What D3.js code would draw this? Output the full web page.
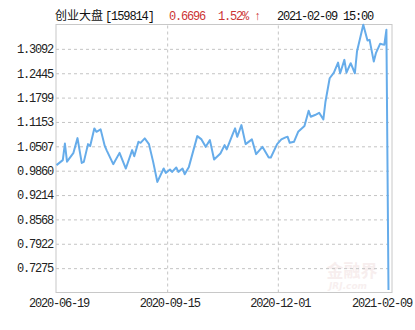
<!DOCTYPE html>
<html>
<head>
<meta charset="utf-8">
<script src="https://cdn.jsdelivr.net/npm/d3@7"></script>
<style>
  body { margin: 0; background: #fff; }
  svg { display: block; }
  .lbl { font-family: "Liberation Mono", monospace; font-size: 12px; letter-spacing: -1.2px; fill: #222; }
</style>
</head>
<body>
<script>
// trading-day index of each vertex and the net value there
const dayIdx = [0,3,4,5,8,10,12,13,15,16,18,19,21,23,24,27,30,33,36,37,39,40,42,44,46,48,51,52,54,55,57,58,60,61,63,67,69,71,73,75,78,80,81,84,85,86,88,90,93,95,98,101,102,105,107,109,110,111,113,115,118,120,121,123,125,127,128,130,132,134,135,137,138,140,142,143,146,148,149,151,152,154,156,157,158];
const nav = [1.0007,1.0140,1.0580,1.0100,1.0325,1.0724,1.0067,1.0094,1.0565,1.0511,1.0982,1.0892,1.0956,1.0511,1.0386,1.0033,1.0333,0.9918,1.0405,1.0245,1.0626,1.0599,1.0716,1.0565,1.0094,0.9562,0.9918,0.9801,0.9892,0.9828,0.9945,0.9828,0.9918,0.9767,0.9961,1.0777,1.0690,1.0493,1.0671,1.0158,1.0317,1.0538,1.0424,1.0849,1.0982,1.0759,1.1070,1.0565,1.0690,1.0299,1.0493,1.0211,1.0211,1.0565,1.0690,1.0743,1.0759,1.0599,1.0626,1.0892,1.1043,1.1450,1.1291,1.1336,1.1397,1.1222,1.1690,1.2312,1.2461,1.2727,1.2445,1.2799,1.2461,1.2711,1.2445,1.3020,1.3730,1.3312,1.3331,1.2754,1.2977,1.3225,1.3198,1.3597,0.6696];
const lastDay = 158;
const yMin = 0.6629, yMax = 1.3738;
const yTicks = [0.7275,0.7922,0.8568,0.9214,0.9860,1.0507,1.1153,1.1799,1.2445,1.3092];
const xTickIdx = [0, lastDay/3, lastDay*2/3, lastDay];
const xTickLabels = ["2020-06-19","2020-09-15","2020-12-01","2021-02-09"];
const fundName = "创业大盘[159814]";
const lastNav = "0.6696", pct = "1.52%", stamp = "2021-02-09 15:00";

const W = 415, H = 330;
const pL = 56, pR = 392, pT = 24.5, pB = 292.5;

const svg = d3.select("body").append("svg").attr("width", W).attr("height", H);

const x = d3.scaleLinear().domain([0, lastDay]).range([pL + 0.5, 388.5]);
const y = d3.scaleLinear().domain([yMin, yMax]).range([pB, pT]);

// watermark
const wm = svg.append("g").attr("opacity", 0.3);
wm.append("text").attr("x", 352).attr("y", 277).attr("text-anchor", "middle")
  .attr("font-family", "Noto Sans CJK SC").attr("font-weight", "bold").attr("font-size", 17)
  .attr("fill", "#e8c8c8").text("金融界");
wm.append("text").attr("x", 348).attr("y", 289).attr("text-anchor", "middle")
  .attr("font-family", "DejaVu Sans").attr("font-style", "italic").attr("font-weight", "bold").attr("font-size", 9)
  .attr("fill", "#e8cccc").text("JRJ.com");

// y grid + labels
const yAxis = d3.axisLeft(y).tickValues(yTicks).tickFormat(d3.format(".4f"))
  .tickSize(-(pR - pL)).tickPadding(3);
const gy = svg.append("g").attr("transform", `translate(${pL},0)`).call(yAxis);
gy.select(".domain").remove();
gy.selectAll(".tick line").attr("stroke", "#c4c4c4").attr("stroke-dasharray", "3,3");
gy.selectAll(".tick text").attr("class", "lbl").attr("x", -3);

// x grid + labels
const xAxis = d3.axisBottom(x).tickValues(xTickIdx).tickFormat((d, i) => xTickLabels[i])
  .tickSize(-(pB - pT)).tickPadding(4);
const gx = svg.append("g").attr("transform", `translate(0,${pB})`).call(xAxis);
gx.select(".domain").remove();
gx.selectAll(".tick line").attr("stroke", "#c4c4c4").attr("stroke-dasharray", "3,3")
  .attr("opacity", (d, i) => (i === 0 || i === xTickIdx.length - 1) ? 0 : 1);
gx.selectAll(".tick text").attr("class", "lbl").attr("dy", "0.85em")
  .attr("dx", (d, i) => i === xTickIdx.length - 1 ? -7 : 2);

// frame
svg.append("rect").attr("x", pL).attr("y", pT).attr("width", pR - pL).attr("height", pB - pT)
  .attr("fill", "none").attr("stroke", "#c8c8c8");

// the line
const line = d3.line().x((d, i) => x(dayIdx[i])).y(d => y(d));
svg.append("path").datum(nav).attr("d", line)
  .attr("fill", "none").attr("stroke", "#66acea").attr("stroke-width", 2).attr("stroke-linejoin", "round");

// title
const t = svg.append("text").attr("y", 20).attr("font-size", 12);
t.append("tspan").attr("x", 55).attr("font-family", "Noto Sans CJK SC").attr("fill", "#111").text(fundName.slice(0, 4));
t.append("tspan").attr("font-family", "Liberation Mono").attr("letter-spacing", "-1.1px").attr("fill", "#111").attr("dx", 2).text(fundName.slice(4));
const t2 = svg.append("text").attr("y", 20).attr("class", "lbl");
t2.append("tspan").attr("x", 169).attr("fill", "#c33").text(lastNav);
t2.append("tspan").attr("x", 218).attr("fill", "#c33").text(pct + " \u2191");
t2.append("tspan").attr("x", 277).attr("fill", "#111").text(stamp);
</script>
</body>
</html>
